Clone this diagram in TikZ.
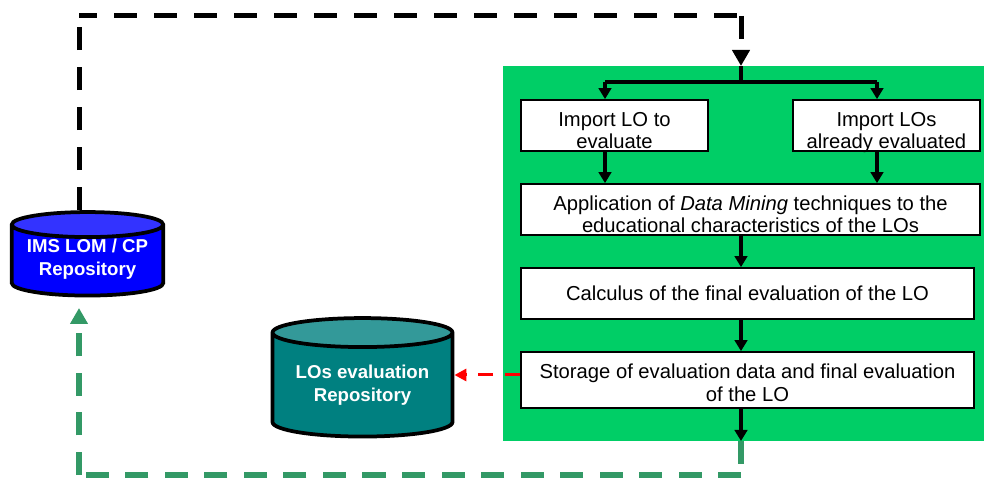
\documentclass[tikz,border=0pt]{standalone}
\usepackage{fontspec}
\setmainfont{Liberation Sans}
\usetikzlibrary{arrows.meta,shapes.geometric}
\definecolor{panelgreen}{HTML}{00CE66}
\definecolor{loopgreen}{HTML}{339966}
\definecolor{repoblue}{HTML}{0000FF}
\definecolor{repobluetop}{HTML}{3333FF}
\definecolor{repoteal}{HTML}{008080}
\definecolor{repotealtop}{HTML}{339999}
\newcommand{\repoline}[1]{\makebox[2cm]{#1}}
\begin{document}
\begin{tikzpicture}
	[inner sep=0mm,
	panel/.style={rectangle,fill=panelgreen,minimum width=9.62cm,minimum height=7.5cm},
	task/.style={rectangle,draw=black,fill=white,line width=.035cm,align=center,minimum height=1.02cm,font=\fontsize{11.5}{12.9}\selectfont},
	twolines/.style={text height=26.7pt,text depth=0pt},
	repo/.style={cylinder,shape border rotate=90,draw=black,line width=.075cm,cylinder uses custom fill,aspect=.29,align=center,text=white,font=\fontsize{10.6}{13}\selectfont\bfseries},
	flow/.style={line width=.07cm,-{Triangle[length=.22cm,width=.25cm]}},
	plain/.style={line width=.07cm},
	blackloop/.style={line width=.1cm,dash pattern=on .46cm off .34cm},
	greenloop/.style={draw=loopgreen,line width=.11cm,dash pattern=on .46cm off .33cm},
	bigtip/.style={-{Triangle[length=.32cm,width=.34cm]}},
	redloop/.style={draw=red,line width=.06cm,dash pattern=on .3cm off .24cm,-{Triangle[length=.24cm,width=.24cm]}}]
	\useasboundingbox (0, 0) rectangle (19.68, 9.58);
	\node (panel) at (14.87, 4.51) [panel] {};
	\node (importlo) at (12.29, 7.07) [task,twolines,minimum width=3.74cm] {Import LO to\\evaluate};
	\node (importlos) at (17.73, 7.07) [task,twolines,minimum width=3.74cm] {Import LOs\\already evaluated};
	\node (mining) at (15.01, 5.39) [task,twolines,minimum width=9.18cm] {Application of \textit{Data Mining} techniques to the\\educational characteristics of the LOs};
	\node (calculus) at (14.95, 3.71) [task,minimum width=9.06cm] {Calculus of the final evaluation of the LO};
	\node (storage) at (14.95, 1.98) [task,twolines,text height=24pt,minimum width=9.06cm,minimum height=1.12cm] {Storage of evaluation data and final evaluation\\of the LO};
	\node (ims) at (1.75, 4.36) [repo,aspect=.25,text depth=4pt,cylinder end fill=repobluetop,cylinder body fill=repoblue,minimum width=3.03cm,minimum height=1.67cm] {\repoline{IMS LOM / CP}\\\repoline{Repository}};
	\node (eval) at (7.25, 1.87) [repo,cylinder end fill=repotealtop,cylinder body fill=repoteal,minimum width=3.6cm,minimum height=2.37cm] {\repoline{LOs evaluation}\\\repoline{Repository}};
	\coordinate (topleft) at (1.58, 9.26);
	\coordinate (topright) at (14.82, 9.26);
	\coordinate (topend) at (14.74, 9.26);
	\coordinate (entry) at (14.82, 8.26);
	\coordinate (fork) at (14.82, 7.94);
	\coordinate (forkl) at (12.1, 7.94);
	\coordinate (forkr) at (17.54, 7.94);
	\coordinate (exit) at (14.82, 0.76);
	\coordinate (lowright) at (14.82, 0.08);
	\coordinate (lowleft) at (1.58, 0.08);
	\coordinate (lowstart) at (14.82, 0.28);
	\coordinate (imstip) at (1.58, 3.42);
	\coordinate (redout) at ([yshift=.1cm]storage.west);
	% black return path
	\draw [blackloop] (ims.north -| topleft) to (topleft);
	\draw [blackloop] (topend) to (topleft);
	\draw [blackloop,bigtip] (topright) to (entry);
	% inside the panel
	\draw [plain] (entry) to (fork);
	\draw [plain] (forkl) to (forkr);
	\draw [flow] (forkl) to (importlo.north -| forkl);
	\draw [flow] (forkr) to (importlos.north -| forkr);
	\draw [flow] (importlo.south -| forkl) to (mining.north -| forkl);
	\draw [flow] (importlos.south -| forkr) to (mining.north -| forkr);
	\draw [flow] (mining.south -| fork) to (calculus.north -| fork);
	\draw [flow] (calculus.south -| fork) to (storage.north -| fork);
	\draw [flow] (storage.south -| fork) to (exit);
	% green return path
	\draw [greenloop] (exit) to (lowstart);
	\draw [greenloop] (lowright) to (lowleft);
	\draw [greenloop,bigtip] (lowleft) to (imstip);
	% red link
	\draw [redloop] (redout) to (eval.east |- redout);
\end{tikzpicture}
\end{document}
